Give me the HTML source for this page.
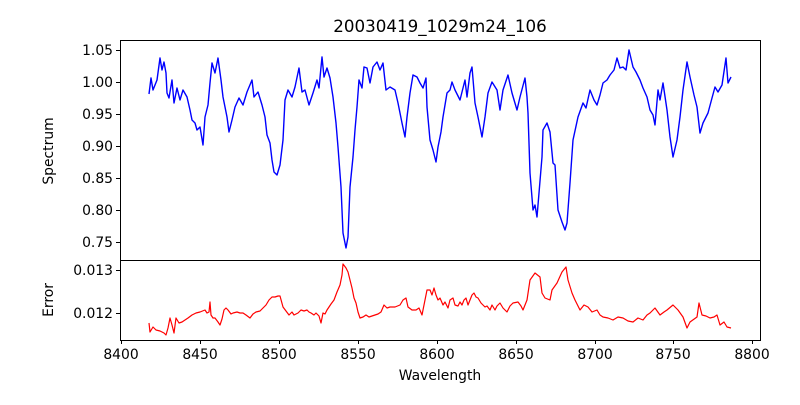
<!DOCTYPE html>
<html><head><meta charset="utf-8"><style>
body{margin:0;background:#fff}
svg text{font-family:"DejaVu Sans","Liberation Sans",sans-serif;font-size:13.9px;fill:#000}
</style></head><body>
<svg width="800" height="400" viewBox="0 0 800 400" xmlns="http://www.w3.org/2000/svg">
<rect width="800" height="400" fill="#fff"/>
<text x="440" y="32" text-anchor="middle" style="font-size:16.7px">20030419_1029m24_106</text>
<polyline fill="none" stroke="#0000ff" stroke-width="1.4" stroke-linejoin="round" points="149,94 151,78 153,90 157,80 160,58 162,70 164,62 166,73 167,93 169,98 172,80 174,103 177,88 180,100 183,90 187,97 190,110 192,120 195,123 197,130 200,127 203,145 205,117 208,105 210,83 212,63 215,73 218,58 221,80 223,97 227,117 229,132 232,120 235,107 239,98 243,105 247,92 252,80 254,97 258,92 262,105 265,117 267,135 270,143 272,160 274,172 277,175 280,165 283,140 285,100 288,90 292,97 295,87 299,68 302,92 305,90 309,105 313,93 317,80 319,88 322,57 324,77 327,68 330,78 333,97 336,123 338,147 341,187 343,233 346,248 348,237 350,187 353,157 355,130 357,107 359,80 362,88 364,67 367,68 370,83 373,67 377,62 380,70 383,63 386,90 390,87 395,90 398,103 402,123 405,137 407,117 410,93 413,75 417,77 420,83 423,88 426,78 427,107 430,140 433,150 436,162 438,147 441,132 443,117 447,93 450,90 452,82 455,90 460,100 465,80 467,97 470,73 472,67 475,103 478,117 482,137 485,117 488,93 492,82 497,90 500,110 503,90 508,75 512,93 517,110 520,97 525,78 527,97 528,113 530,173 533,210 535,205 537,217 539,193 542,157 543,130 547,123 550,132 553,163 555,165 558,210 562,222 565,230 567,223 570,183 573,140 578,117 583,103 586,108 590,90 594,100 597,105 600,95 603,83 607,80 610,75 614,70 617,58 620,68 623,67 626,70 629,50 633,67 636,72 640,80 643,88 647,97 650,110 653,115 655,125 658,90 660,100 663,83 667,110 670,137 673,157 677,140 680,117 683,90 687,62 690,77 694,95 697,107 700,133 703,123 708,113 712,98 715,87 718,92 722,85 726,58 728,83 731,77"/>
<polyline fill="none" stroke="#ff0000" stroke-width="1.2" stroke-linejoin="round" points="149,323 150,332 153,327 156,330 160,331 164,333 166,335 168,328 170,318 172,325 174,333 176,318 179,323 182,322 185,320 188,318 192,315 196,313 200,312 205,310 207,313 209,312 210,302 211,315 213,318 215,318 218,322 220,325 222,319 224,310 226,308 228,310 231,314 233,313 237,312 240,313 243,313 246,315 250,318 253,314 256,312 260,311 263,308 266,305 269,300 272,297 275,297 278,296 280,296 283,307 286,311 289,315 292,312 294,315 296,314 298,313 301,310 304,311 307,310 309,312 311,313 314,315 316,313 319,316 321,323 323,313 325,314 327,310 331,304 334,300 337,292 340,285 342,275 343,264 346,268 348,272 350,280 352,288 354,298 356,303 358,312 360,318 363,317 366,315 369,317 372,316 375,315 378,314 381,312 384,305 387,308 390,307 395,307 400,305 403,300 406,298 408,307 412,310 416,310 419,308 422,315 425,300 427,290 430,290 432,295 434,288 436,295 438,300 440,298 443,305 445,302 448,308 450,300 453,298 455,305 458,306 460,302 462,305 464,300 466,298 468,305 470,300 472,295 474,293 476,297 478,298 481,303 485,307 487,306 490,310 492,305 495,310 497,306 500,303 503,308 507,312 510,306 513,303 518,302 521,306 523,310 527,300 530,280 535,273 540,277 542,293 545,298 550,300 552,290 557,283 562,272 566,267 568,280 572,293 575,300 580,310 584,305 588,307 592,312 597,310 600,315 603,317 608,318 613,320 618,317 623,318 628,321 633,322 638,318 643,320 647,315 650,313 655,308 660,315 664,312 667,310 673,305 678,310 683,317 687,328 690,322 697,317 699,303 702,315 706,316 710,318 714,317 717,315 720,325 724,322 727,327 731,328"/>
<g fill="none" stroke="#000" stroke-width="1">
<rect x="120.5" y="40.5" width="640" height="220"/>
<rect x="120.5" y="260.5" width="640" height="80"/>
<path d="M116,50.5h4M116,82.5h4M116,114.5h4M116,146.5h4M116,178.5h4M116,210.5h4M116,242.5h4M116,270.5h4M116,313.5h4"/>
<path d="M121.5,340v4M200.5,340v4M279.5,340v4M358.5,340v4M437.5,340v4M516.5,340v4M595.5,340v4M673.5,340v4M752.5,340v4"/>
</g>
<g text-anchor="end">
<text x="113" y="55">1.05</text><text x="113" y="87">1.00</text><text x="113" y="119">0.95</text><text x="113" y="151">0.90</text><text x="113" y="183">0.85</text><text x="113" y="215">0.80</text><text x="113" y="247">0.75</text>
<text x="113" y="275">0.013</text><text x="113" y="318">0.012</text>
</g>
<g text-anchor="middle">
<text x="121" y="359">8400</text><text x="200" y="359">8450</text><text x="279" y="359">8500</text><text x="358" y="359">8550</text><text x="437" y="359">8600</text><text x="516" y="359">8650</text><text x="595" y="359">8700</text><text x="673" y="359">8750</text><text x="752" y="359">8800</text>
<text x="440" y="380">Wavelength</text>
<text transform="translate(53,151) rotate(-90)">Spectrum</text>
<text transform="translate(53,300) rotate(-90)">Error</text>
</g>
</svg>
</body></html>
